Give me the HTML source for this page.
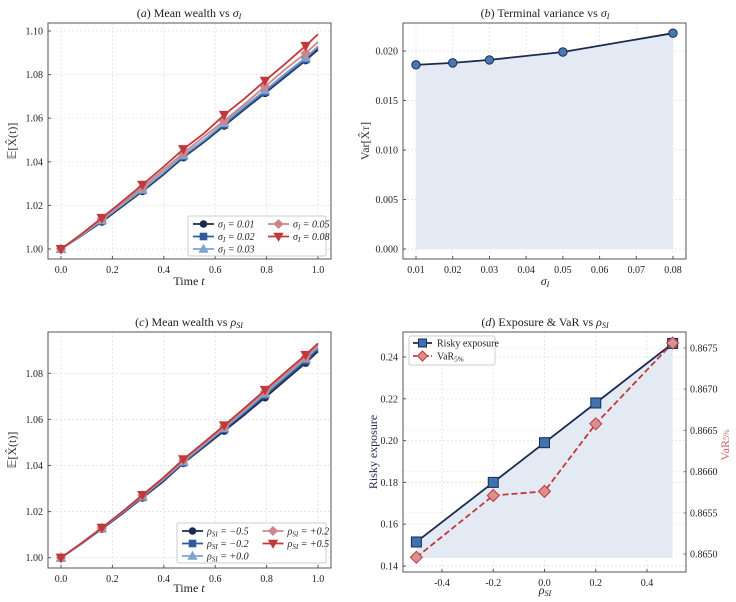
<!DOCTYPE html>
<html><head><meta charset="utf-8">
<style>
body{margin:0;background:#fff;}
svg{display:block;font-family:"Liberation Serif",serif;}
</style></head>
<body>
<svg id="fig" width="736" height="602" viewBox="0 0 736 602" xmlns="http://www.w3.org/2000/svg"></svg>
<script>
// ---- data ----
const tGrid=[0,0.079,0.159,0.238,0.317,0.397,0.476,0.556,0.635,0.714,0.794,0.873,0.952,1.0];
const sigmaLabels=["σ_I = 0.01","σ_I = 0.02","σ_I = 0.03","σ_I = 0.05","σ_I = 0.08"];
const sigma001=[1.000,1.006,1.0125,1.0195,1.0265,1.034,1.042,1.049,1.0565,1.064,1.0715,1.079,1.0865,1.0915];
const sigma002=[1.000,1.006,1.013,1.020,1.027,1.0345,1.0425,1.0495,1.057,1.0645,1.072,1.0795,1.087,1.0925];
const sigma003=[1.000,1.0062,1.0132,1.0202,1.0273,1.035,1.043,1.050,1.0578,1.0655,1.0728,1.0805,1.0878,1.093];
const sigma005=[1.000,1.0065,1.0138,1.021,1.0283,1.0362,1.044,1.0515,1.0588,1.0665,1.0745,1.0825,1.0898,1.095];
const sigma008=[1.000,1.0068,1.0143,1.0218,1.0295,1.0375,1.0458,1.053,1.0615,1.069,1.0772,1.085,1.0932,1.0985];
const rhoM05=[1.000,1.006,1.0125,1.019,1.026,1.033,1.041,1.048,1.055,1.062,1.0695,1.077,1.0845,1.0895];
const rhoM02=[1.000,1.006,1.0127,1.0193,1.0263,1.0335,1.0413,1.0485,1.0557,1.0628,1.0705,1.078,1.0855,1.0905];
const rhoP00=[1.000,1.0061,1.0128,1.0195,1.0266,1.0338,1.0417,1.049,1.0562,1.0635,1.0712,1.0788,1.0863,1.0915];
const rhoP02=[1.000,1.0062,1.0129,1.0197,1.0269,1.0342,1.0422,1.0495,1.0568,1.0642,1.072,1.0796,1.087,1.0923];
const rhoP05=[1.000,1.0063,1.013,1.0199,1.0272,1.0346,1.0427,1.05,1.0574,1.0649,1.0728,1.0805,1.088,1.093];
const sigmaB=[0.01,0.02,0.03,0.05,0.08];
const varB=[0.0186,0.0188,0.0191,0.0199,0.0218];
const rhoD=[-0.5,-0.2,0.0,0.2,0.5];
const riskyD=[0.1515,0.180,0.199,0.218,0.2465];
const varD=[0.86496,0.86571,0.86576,0.86658,0.86756];
const tTicks=[0,0.2,0.4,0.6,0.8,1.0];
const aYTicks=[1.00,1.02,1.04,1.06,1.08,1.10];
const cYTicks=[1.00,1.02,1.04,1.06,1.08];
const bXTicks=[0.01,0.02,0.03,0.04,0.05,0.06,0.07,0.08];
const bYTicks=[0,0.005,0.010,0.015,0.020];
const dXTicks=[-0.4,-0.2,0,0.2,0.4];
const dYTicks=[0.14,0.16,0.18,0.20,0.22,0.24];
const dY2Ticks=[0.8650,0.8655,0.8660,0.8665,0.8670,0.8675];

const NS="http://www.w3.org/2000/svg";
const fig=document.getElementById('fig');
function mk(tag,attrs,parent){const e=document.createElementNS(NS,tag);for(const k in attrs)e.setAttribute(k,attrs[k]);(parent||fig).appendChild(e);return e;}
function lin(d0,d1,p0,p1){return v=>p0+(v-d0)/(d1-d0)*(p1-p0);}
function txt(x,y,s,opt,parent){const e=mk('text',Object.assign({x:x,y:y,'font-size':11,fill:'#222'},opt||{}),parent);e.innerHTML=s;return e;}
const cols=['#1b2a4e','#2f5b9e','#7fa3cf','#cf8588','#c0393b'];
const shapes=['circle','square','tri','diamond','tridown'];
function marker(x,y,shape,col,sz,stroke){
  const s=sz||4;let e;
  if(shape==='circle')e=mk('circle',{cx:x,cy:y,r:s});
  else if(shape==='square')e=mk('rect',{x:x-s,y:y-s,width:2*s,height:2*s});
  else if(shape==='tri')e=mk('polygon',{points:`${x},${y-s-1} ${x-s-1},${y+s} ${x+s+1},${y+s}`});
  else if(shape==='tridown')e=mk('polygon',{points:`${x},${y+s+1} ${x-s-1},${y-s} ${x+s+1},${y-s}`});
  else e=mk('polygon',{points:`${x},${y-s-1} ${x+s+1},${y} ${x},${y+s+1} ${x-s-1},${y}`});
  e.setAttribute('fill',col);e.setAttribute('stroke',stroke||col);e.setAttribute('stroke-width',1);
  return e;
}
function frame(L,R,T,B,name){
  mk('rect',{x:L,y:T,width:R-L,height:B-T,fill:'none',stroke:'#555','stroke-width':1});
}
function gridX(ticks,sx,T,B,lbl,fmt){ticks.forEach(v=>{const x=sx(v);mk('line',{x1:x,x2:x,y1:T,y2:B,stroke:'#ddd','stroke-dasharray':'2,2','stroke-width':0.7});mk('line',{x1:x,x2:x,y1:B,y2:B-3,stroke:'#555'});const t=txt(x,B+14,fmt(v),{'text-anchor':'middle','font-size':10});});}
function gridY(ticks,sy,L,R,fmt){ticks.forEach(v=>{const y=sy(v);mk('line',{x1:L,x2:R,y1:y,y2:y,stroke:'#ddd','stroke-dasharray':'2,2','stroke-width':0.7});mk('line',{x1:L,x2:L+3,y1:y,y2:y,stroke:'#555'});const t=txt(L-5,y+3.5,fmt(v),{'text-anchor':'end','font-size':10});});}
function seriesPanel(series,sx,sy,name){
  series.forEach((vals,i)=>{
    const g=mk('g',{});
    const p=vals.map((v,j)=>sx(tGrid[j])+','+sy(v)).join(' ');
    mk('polyline',{points:p,fill:'none',stroke:cols[i],'stroke-width':1.8},g);
    vals.forEach((v,j)=>{if(j%2===0&&j<=12){const m=marker(sx(tGrid[j]),sy(v),shapes[i],cols[i],3.5);g.appendChild(m);}});
  });
}
function legend(x,y,w,h,labels,prefix){
  const g=mk('g',{});
  mk('rect',{x:x,y:y,width:w,height:h,fill:'#fff',stroke:'#ccc',rx:2},g);
  labels.forEach((l,i)=>{const c=i<3?0:1,r=i<3?i:i-3;const lx=x+5+c*(w/2+6),ly=y+8+r*12.5;
    mk('line',{x1:lx,x2:lx+21,y1:ly,y2:ly,stroke:cols[i],'stroke-width':1.8},g);
    g.appendChild(marker(lx+10.5,ly,shapes[i],cols[i],3.3));
    txt(lx+25,ly+3.5,l,{'font-size':10,'font-style':'italic'},g);});
}
function ylab(x,y,s,col){const e=txt(x,y,s,{'text-anchor':'middle','font-size':12,fill:col||'#333',transform:`rotate(-90 ${x} ${y})`});return e;}
const fmt2=v=>v.toFixed(2),fmt1=v=>v.toFixed(1);
function sub(a,b){return a+'<tspan font-size="8" dy="2">'+b+'</tspan>';}

// ---- Panel a ----
{const L=48,R=331,T=23,B=259;const sx=lin(0,1,61,318),sy=lin(1.0,1.10,249,31);
gridX(tTicks,sx,T,B,0,fmt1);gridY(aYTicks,sy,L,R,fmt2);
seriesPanel([sigma001,sigma002,sigma003,sigma005,sigma008],sx,sy,'panel-a');
frame(L,R,T,B,'panel-a-axes');
legend(188,216,138,40,["σ<tspan font-size='7' dy='2'>I</tspan><tspan dy='-2'> = 0.01</tspan>","σ<tspan font-size='7' dy='2'>I</tspan><tspan dy='-2'> = 0.02</tspan>","σ<tspan font-size='7' dy='2'>I</tspan><tspan dy='-2'> = 0.03</tspan>","σ<tspan font-size='7' dy='2'>I</tspan><tspan dy='-2'> = 0.05</tspan>","σ<tspan font-size='7' dy='2'>I</tspan><tspan dy='-2'> = 0.08</tspan>"]);
txt(189,17,"(<tspan font-style='italic'>a</tspan>) Mean wealth vs <tspan font-style='italic'>σ</tspan><tspan font-size='8' dy='2' font-style='italic'>I</tspan>",{'text-anchor':'middle','font-size':12});
txt(189,285,"Time <tspan font-style='italic'>t</tspan>",{'text-anchor':'middle','font-size':12});
ylab(16,141,"𝔼[X̂(t)]");}

// ---- Panel b ----
{const L=403,R=686,T=23,B=259;const sx=lin(0.01,0.08,416,673),sy=lin(0,0.020,249,51);
gridX(bXTicks,sx,T,B,0,fmt2);gridY(bYTicks,sy,L,R,v=>v.toFixed(3));
const pts=sigmaB.map((s,i)=>sx(s)+','+sy(varB[i]));
mk('polygon',{points:pts.join(' ')+` ${sx(sigmaB[sigmaB.length-1])},${sy(0)} ${sx(sigmaB[0])},${sy(0)}`,fill:'#e3eaf4'});
mk('polyline',{points:pts.join(' '),fill:'none',stroke:'#1b2a4e','stroke-width':1.8});
sigmaB.forEach((s,i)=>{const c=mk('circle',{cx:sx(s),cy:sy(varB[i]),r:4.2,fill:'#4a78b0',stroke:'#1b2a4e','stroke-width':1});});
frame(L,R,T,B,'panel-b-axes');
txt(545,17,"(<tspan font-style='italic'>b</tspan>) Terminal variance vs <tspan font-style='italic'>σ</tspan><tspan font-size='8' dy='2' font-style='italic'>I</tspan>",{'text-anchor':'middle','font-size':12});
txt(545,285,"<tspan font-style='italic'>σ</tspan><tspan font-size='8' dy='2' font-style='italic'>I</tspan>",{'text-anchor':'middle','font-size':12});
ylab(369,141,"Var[X̂<tspan font-size='8'>T</tspan>]");}

// ---- Panel c ----
{const L=48,R=331,T=332,B=568;const sx=lin(0,1,61,318),sy=lin(1.0,1.08,557.7,373.3);
gridX(tTicks,sx,T,B,0,fmt1);gridY(cYTicks,sy,L,R,fmt2);
seriesPanel([rhoM05,rhoM02,rhoP00,rhoP02,rhoP05],sx,sy,'panel-c');
frame(L,R,T,B,'panel-c-axes');
const rl=v=>"ρ<tspan font-size='7' dy='2'>SI</tspan><tspan dy='-2'> = "+v+"</tspan>";
legend(177,523,149,40,[rl("−0.5"),rl("−0.2"),rl("+0.0"),rl("+0.2"),rl("+0.5")]);
txt(189,326,"(<tspan font-style='italic'>c</tspan>) Mean wealth vs <tspan font-style='italic'>ρ</tspan><tspan font-size='8' dy='2' font-style='italic'>SI</tspan>",{'text-anchor':'middle','font-size':12});
txt(189,592,"Time <tspan font-style='italic'>t</tspan>",{'text-anchor':'middle','font-size':12});
ylab(16,450,"𝔼[X̂(t)]");}

// ---- Panel d ----
{const L=403,R=686,T=332,B=572;const sx=lin(-0.4,0.4,442,647),sy=lin(0.14,0.24,566,357),sy2=lin(0.8650,0.8675,554,348);
gridX(dXTicks,sx,T,B,0,fmt1);gridY(dYTicks,sy,L,R,fmt2);
dY2Ticks.forEach(v=>{const y=sy2(v);mk('line',{x1:R,x2:R-3,y1:y,y2:y,stroke:'#555'});mk('line',{x1:L,x2:R,y1:y,y2:y,stroke:'#e6e6e6','stroke-dasharray':'2,2','stroke-width':0.6});const t=txt(R+4,y+3.5,v.toFixed(4),{'font-size':10});});
const pts=rhoD.map((r,i)=>sx(r)+','+sy(riskyD[i]));
mk('polygon',{points:pts.join(' ')+` ${sx(rhoD[rhoD.length-1])},558 ${sx(rhoD[0])},558`,fill:'#e3eaf4'});
mk('polyline',{points:pts.join(' '),fill:'none',stroke:'#1b2a4e','stroke-width':1.8});
const p2=rhoD.map((r,i)=>sx(r)+','+sy2(varD[i]));
mk('polyline',{points:p2.join(' '),fill:'none',stroke:'#c0393b','stroke-width':1.8,'stroke-dasharray':'6,3'});
rhoD.forEach((r,i)=>{marker(sx(r),sy(riskyD[i]),'square','#3f72b0',5,'#1b2a4e');});
rhoD.forEach((r,i)=>{marker(sx(r),sy2(varD[i]),'diamond','#d89090',5,'#c0393b');});
frame(L,R,T,B,'panel-d-axes');
const g=mk('g',{});
mk('rect',{x:409,y:336,width:86,height:29,fill:'#fff',stroke:'#ccc',rx:2},g);
mk('line',{x1:413,x2:432,y1:343,y2:343,stroke:'#1b2a4e','stroke-width':1.8},g);g.appendChild(marker(422.5,343,'square','#3f72b0',4,'#1b2a4e'));
txt(437,346.5,"Risky exposure",{'font-size':10},g);
mk('line',{x1:413,x2:432,y1:356,y2:356,stroke:'#c0393b','stroke-width':1.8,'stroke-dasharray':'4,2'},g);g.appendChild(marker(422.5,356,'diamond','#d89090',4,'#c0393b'));
txt(437,359.5,"VaR<tspan font-size='7' dy='2'>5%</tspan>",{'font-size':10},g);
txt(545,326,"(<tspan font-style='italic'>d</tspan>) Exposure &amp; VaR vs <tspan font-style='italic'>ρ</tspan><tspan font-size='8' dy='2' font-style='italic'>SI</tspan>",{'text-anchor':'middle','font-size':12});
txt(545,594,"<tspan font-style='italic'>ρ</tspan><tspan font-size='8' dy='2' font-style='italic'>SI</tspan>",{'text-anchor':'middle','font-size':12});
ylab(377,452,"Risky exposure",'#1b2a4e');
ylab(729,445,"VaR<tspan font-size='8'>5%</tspan>",'#cf6466');}
</script>
</body></html>
